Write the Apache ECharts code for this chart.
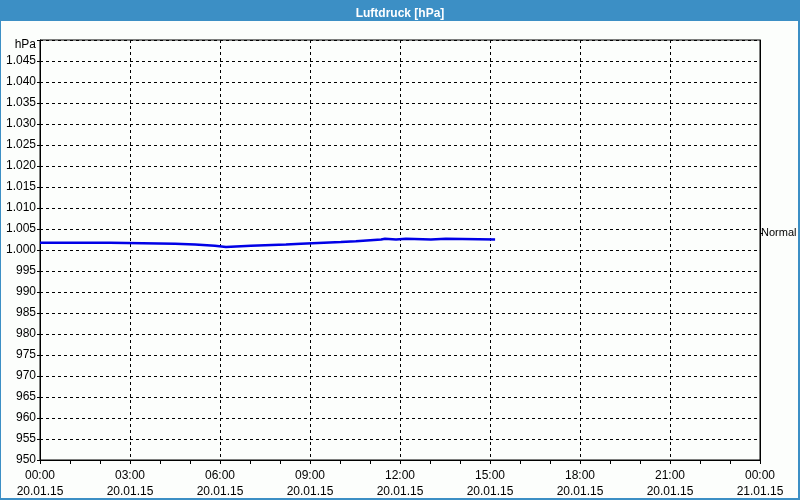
<!DOCTYPE html>
<html><head><meta charset="utf-8">
<script src="https://cdn.jsdelivr.net/npm/echarts@6/dist/echarts.min.js"></script>
<style>html,body{margin:0;padding:0;background:#3c8fc5;}#c{width:800px;height:500px;}</style>
</head><body><div id="c"></div>
<script>
const titleText = 'Luftdruck [hPa]';
const unitLabel = 'hPa';
const dateLabels = ['20.01.15', '21.01.15'];
// hour of change, value from then on
const stepHours  = [0, 2.33, 4.5, 5.17, 5.83, 6.2, 7.03, 8.2, 8.7, 10.03, 10.53, 11.37, 11.5, 11.87, 12.2, 13.03, 13.53, 15.17];
const stepValues = [1001.7, 1001.5, 1001.3, 1001.0, 1000.7, 1001.0, 1001.3, 1001.5, 1001.9, 1002.1, 1002.5, 1002.7, 1002.5, 1002.7, 1002.5, 1002.7, 1002.5, 1002.5];
const normalValue = 1004;
const normalLabel = 'Normal';

const data = stepHours.map((h, i) => [h, stepValues[i]]);
const font = 'Liberation Sans';
const chart = echarts.init(document.getElementById('c'));
chart.setOption({
  animation: false,
  backgroundColor: '#3c8fc5',
  graphic: [{type: 'rect', left: 1, top: 21, shape: {width: 797, height: 477}, style: {fill: '#fcfefc'}, z: -10}],
  title: {text: titleText, left: 'center', top: 3, textStyle: {color: '#fff', fontSize: 12, fontWeight: 'bold', fontFamily: font}},
  grid: {left: 40, right: 40, top: 40, bottom: 40, containLabel: false, outerBoundsMode: 'none', show: true, borderColor: '#000', borderWidth: 1, backgroundColor: 'transparent'},
  xAxis: {
    type: 'value', min: 0, max: 24, interval: 3,
    axisLine: {lineStyle: {color: '#000'}},
    axisTick: {show: true, length: 4, lineStyle: {color: '#000'}},
    minorTick: {show: true, splitNumber: 3, length: 4, lineStyle: {color: '#000'}},
    splitLine: {show: true, lineStyle: {color: '#000', type: [3, 3]}},
    axisLabel: {
      color: '#000', fontFamily: font, fontSize: 12, margin: 8, lineHeight: 16,
      formatter: h => String(h % 24).padStart(2, '0') + ':00\n' + (h >= 24 ? dateLabels[1] : dateLabels[0])
    }
  },
  yAxis: [{
    type: 'value', min: 950, max: 1050, interval: 5,
    axisLine: {show: true, lineStyle: {color: '#000'}},
    axisTick: {show: true, length: 3, lineStyle: {color: '#000'}},
    splitLine: {show: true, lineStyle: {color: '#000', type: [3, 3]}},
    axisLabel: {
      color: '#000', fontFamily: font, fontSize: 12, margin: 4,
      rich: {u: {fontFamily: font, fontSize: 12, color: '#000', padding: [10, 0, 0, 0]}},
      formatter: v => v === 1050 ? '{u|' + unitLabel + '}' : (v >= 1000 ? '1.' + String(v - 1000).padStart(3, '0') : String(v))
    }
  }, {
    type: 'value', min: 950, max: 1050, position: 'right',
    axisLine: {show: true, lineStyle: {color: '#000'}},
    splitLine: {show: false},
    axisTick: {show: true, length: 3, customValues: [normalValue], lineStyle: {color: '#000'}},
    axisLabel: {show: true, customValues: [normalValue], formatter: () => normalLabel, color: '#000', fontFamily: font, fontSize: 11, margin: 1}
  }],
  series: [{
    type: 'line', data: data, step: 'end', symbol: 'none', yAxisIndex: 0,
    lineStyle: {color: '#0000e6', width: 2.5}
  }]
});
</script></body></html>
